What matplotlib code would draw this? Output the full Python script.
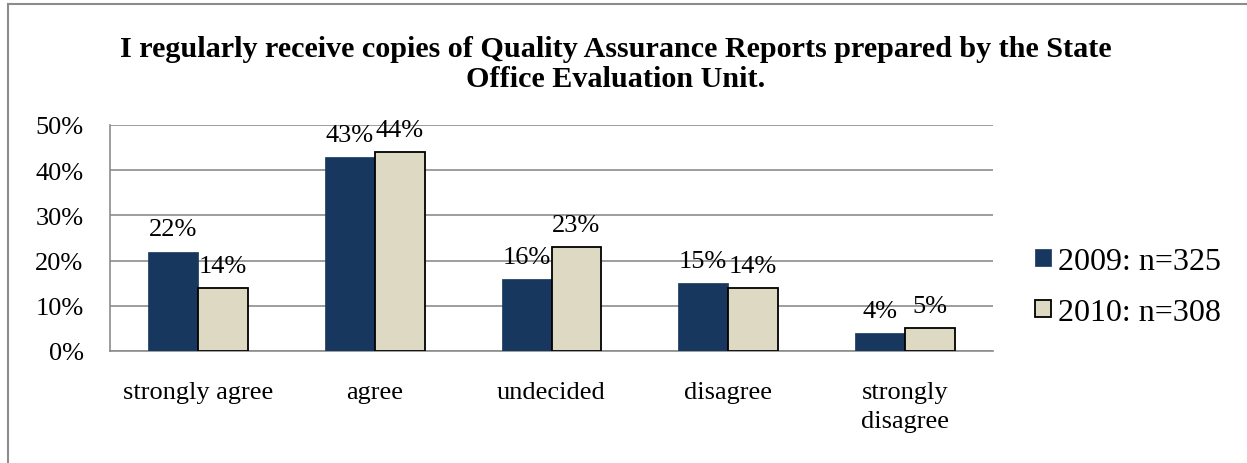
import matplotlib
matplotlib.use("Agg")
import matplotlib.pyplot as plt
from matplotlib.lines import Line2D
import numpy as np

categories = ["strongly agree", "agree", "undecided", "disagree", "strongly\ndisagree"]
series_names = ["2009: n=325", "2010: n=308"]
values_2009 = [22, 43, 16, 15, 4]
values_2010 = [14, 44, 23, 14, 5]
yticks = [0, 10, 20, 30, 40, 50]
title = ("I regularly receive copies of Quality Assurance Reports prepared by the State\n"
         "Office Evaluation Unit.")

plt.rcParams['font.family'] = ['Liberation Serif', 'DejaVu Serif']

fig = plt.figure(figsize=(12.47, 4.64), dpi=100)
ax = fig.add_axes([110/1247, 1-352/464, (993-110)/1247, (352-126)/464])

x = np.arange(len(categories))
w = 0.283
navy = "#17375E"
beige = "#DDD9C3"
b1 = ax.bar(x - w/2, values_2009, w, color=navy, edgecolor=navy, linewidth=0.5, zorder=3, label=series_names[0])
b2 = ax.bar(x + w/2, values_2010, w, color=beige, edgecolor="black", linewidth=1.3, zorder=3, label=series_names[1])

for bars, vals in ((b1, values_2009), (b2, values_2010)):
    for r, v in zip(bars, vals):
        ax.annotate(f"{v}%", (r.get_x() + r.get_width()/2, v), xytext=(0, 8),
                    textcoords="offset points", ha="center", va="bottom", fontsize=19, zorder=4)

ax.set_xlim(-0.5, len(categories) - 0.5)
ax.set_ylim(0, 50)
ax.set_yticks(yticks)
ax.set_yticklabels([f"{t}%" for t in yticks])
ax.set_xticks(x)
ax.set_xticklabels(categories, linespacing=1.4)
ax.tick_params(axis='y', length=0, pad=19, labelsize=19)
ax.tick_params(axis='x', length=0, pad=21.5, labelsize=19)
ax.grid(axis='y', color="#8C8C8C", linewidth=1.2, zorder=0)
for s in ("top", "right"):
    ax.spines[s].set_visible(False)
for s in ("left", "bottom"):
    ax.spines[s].set_color("#8C8C8C")
    ax.spines[s].set_linewidth(1.2)

fig.text(616/1247, 1-64.5/464, title, ha="center", va="center", fontsize=21.7,
         fontweight="bold", linespacing=1.18)

leg = fig.legend(handles=[b1, b2], labels=series_names, loc="center left",
                 bbox_to_anchor=(1035/1247, 1-288/464), frameon=False, fontsize=23,
                 handlelength=0.5, handleheight=0.45, handletextpad=0.22, labelspacing=0.68,
                 borderaxespad=0, borderpad=0)

# outer chart frame (left and top edges visible)
fig.add_artist(Line2D([7.5/1247, 7.5/1247], [0, 1-5/464], transform=fig.transFigure, color="#8C8C8C", linewidth=1.5))
fig.add_artist(Line2D([7.5/1247, 1], [1-5/464, 1-5/464], transform=fig.transFigure, color="#8C8C8C", linewidth=1.5))

fig.savefig("out.png", dpi=100)
